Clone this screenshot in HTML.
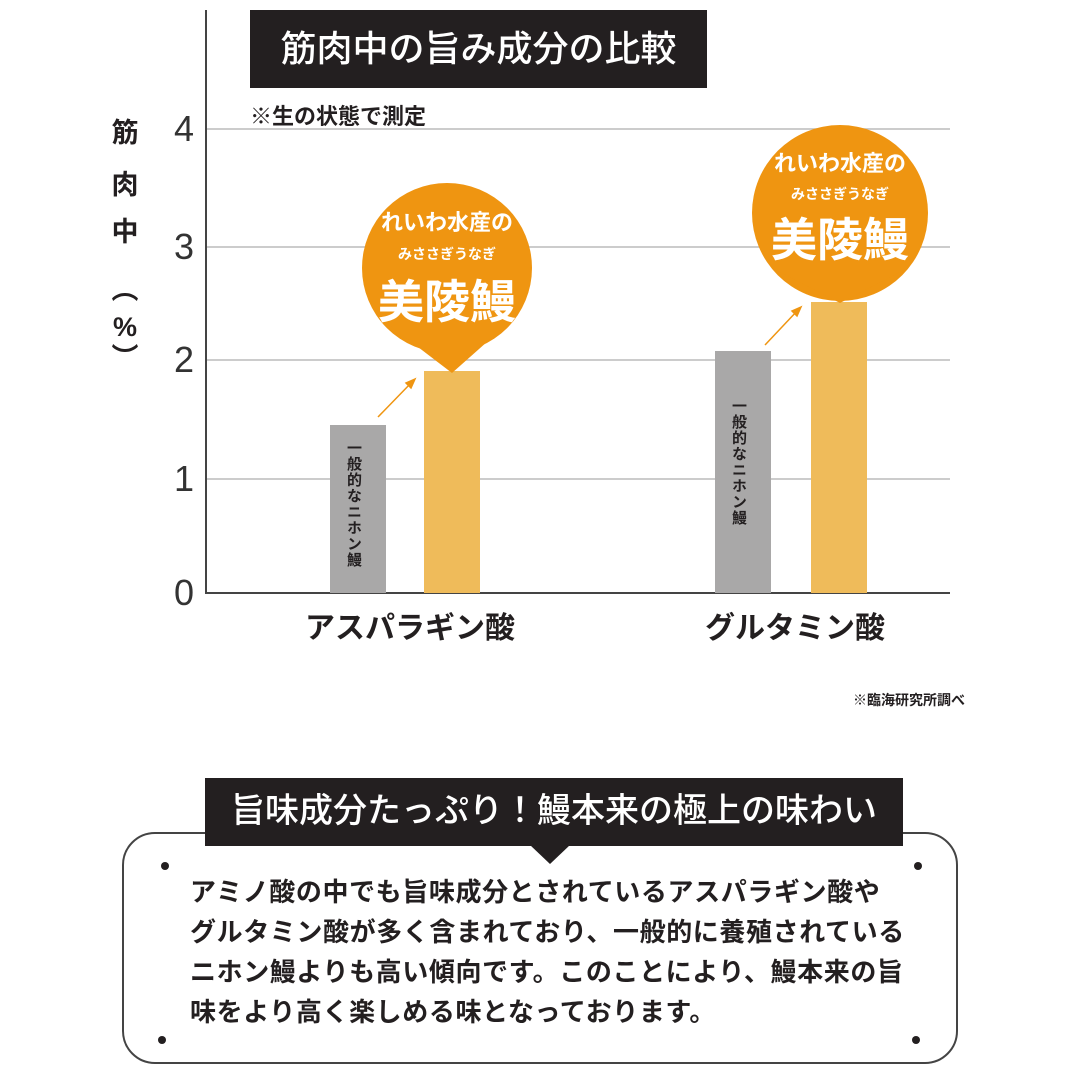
<!DOCTYPE html>
<html><head><meta charset="utf-8"><style>
body{margin:0;width:1080px;height:1080px;background:#fff;overflow:hidden;position:relative;font-family:"Liberation Sans","Noto Sans CJK JP",sans-serif;color:#231f20}
.a{position:absolute}
.t{font-size:36px;font-weight:300;color:#333;width:40px;text-align:center;left:164px}
.bt{color:#fff;text-align:center;font-weight:bold;width:200px}
.yl{position:absolute;left:105px;width:40px;text-align:center;font-size:27px;font-weight:bold;line-height:30px}
</style></head><body>
<svg class="a" style="left:0;top:0" width="1080" height="1080">
<g stroke="#bbb" stroke-width="1.5">
<line x1="206" y1="129" x2="950" y2="129"/><line x1="206" y1="247" x2="950" y2="247"/>
<line x1="206" y1="360" x2="950" y2="360"/><line x1="206" y1="479" x2="950" y2="479"/></g>
<line x1="206" y1="10" x2="206" y2="594" stroke="#444" stroke-width="2"/>
<line x1="206" y1="593" x2="950" y2="593" stroke="#444" stroke-width="2"/>
<rect x="330" y="425" width="56" height="168" fill="#a9a8a8"/>
<rect x="424" y="371" width="56" height="222" fill="#efbb5a"/>
<rect x="715" y="351" width="56" height="242" fill="#a9a8a8"/>
<rect x="811" y="302" width="56" height="291" fill="#efbb5a"/>
<circle cx="447" cy="268" r="85" fill="#ef9511"/>
<polygon points="380,318 514,318 452,373" fill="#ef9511"/>
<circle cx="840" cy="213" r="88" fill="#ef9511"/>
<polygon points="772,268 908,268 840,303" fill="#ef9511"/>
<g stroke="#ef9511" stroke-width="1.5" fill="#ef9511">
<line x1="378" y1="417" x2="412" y2="382"/><polygon points="415,379 406,383 411,388"/>
<line x1="765" y1="345" x2="798" y2="310"/><polygon points="801,307 792,311 797,316"/></g>
<rect x="250" y="10" width="457" height="78" fill="#231f20"/>
<rect x="123" y="833" width="834" height="230" rx="32" fill="none" stroke="#444" stroke-width="2"/>
<rect x="205" y="778" width="698" height="68" fill="#231f20"/>
<polygon points="530,845 570,845 550,864" fill="#231f20"/>
<g fill="#231f20"><circle cx="165" cy="866" r="4"/><circle cx="918" cy="866" r="4"/><circle cx="162" cy="1040" r="4"/><circle cx="916" cy="1040" r="4"/></g>
</svg>
<div class="a" style="left:250px;top:10px;width:457px;height:78px;line-height:78px;text-align:center;color:#fff;font-size:36px;font-weight:500">筋肉中の旨み成分の比較</div>
<div class="a" style="left:250px;top:99px;font-size:22px;font-weight:bold">※生の状態で測定</div>
<div class="yl" style="top:118px">筋</div>
<div class="yl" style="top:170px">肉</div>
<div class="yl" style="top:217px">中</div>
<div class="yl" style="top:275px">︵</div>
<div class="yl" style="top:312px">%</div>
<div class="yl" style="top:343px">︶</div>
<div class="a t" style="top:108px">4</div>
<div class="a t" style="top:226px">3</div>
<div class="a t" style="top:339px">2</div>
<div class="a t" style="top:458px">1</div>
<div class="a t" style="top:572px">0</div>
<div class="a" style="left:343px;top:440px;font-size:15px;font-weight:bold;writing-mode:vertical-rl;letter-spacing:1px">一般的なニホン鰻</div>
<div class="a" style="left:728px;top:398px;font-size:15px;font-weight:bold;writing-mode:vertical-rl;letter-spacing:1px">一般的なニホン鰻</div>
<div class="a bt" style="left:347px;top:205px;font-size:22px">れいわ水産の</div>
<div class="a bt" style="left:347px;top:244px;font-size:14px">みささぎうなぎ</div>
<div class="a bt" style="left:347px;top:266px;font-size:46px">美陵鰻</div>
<div class="a bt" style="left:740px;top:146px;font-size:22px">れいわ水産の</div>
<div class="a bt" style="left:740px;top:184px;font-size:14px">みささぎうなぎ</div>
<div class="a bt" style="left:740px;top:204px;font-size:46px">美陵鰻</div>
<div class="a" style="left:260px;top:603px;width:300px;text-align:center;font-size:30px;font-weight:bold">アスパラギン酸</div>
<div class="a" style="left:645px;top:603px;width:300px;text-align:center;font-size:30px;font-weight:bold">グルタミン酸</div>
<div class="a" style="left:765px;top:690px;width:200px;text-align:right;font-size:14px;font-weight:bold">※臨海研究所調べ</div>
<div class="a" style="left:205px;top:778px;width:698px;height:68px;line-height:66px;text-align:center;color:#fff;font-size:34px;font-weight:500">旨味成分たっぷり！鰻本来の極上の味わい</div>
<div class="a" style="left:190px;top:872px;width:760px;font-size:26px;font-weight:bold;line-height:40px;letter-spacing:0.6px">アミノ酸の中でも旨味成分とされているアスパラギン酸や<br>グルタミン酸が多く含まれており、一般的に養殖されている<br>ニホン鰻よりも高い傾向です。このことにより、鰻本来の旨<br>味をより高く楽しめる味となっております。</div>
</body></html>
